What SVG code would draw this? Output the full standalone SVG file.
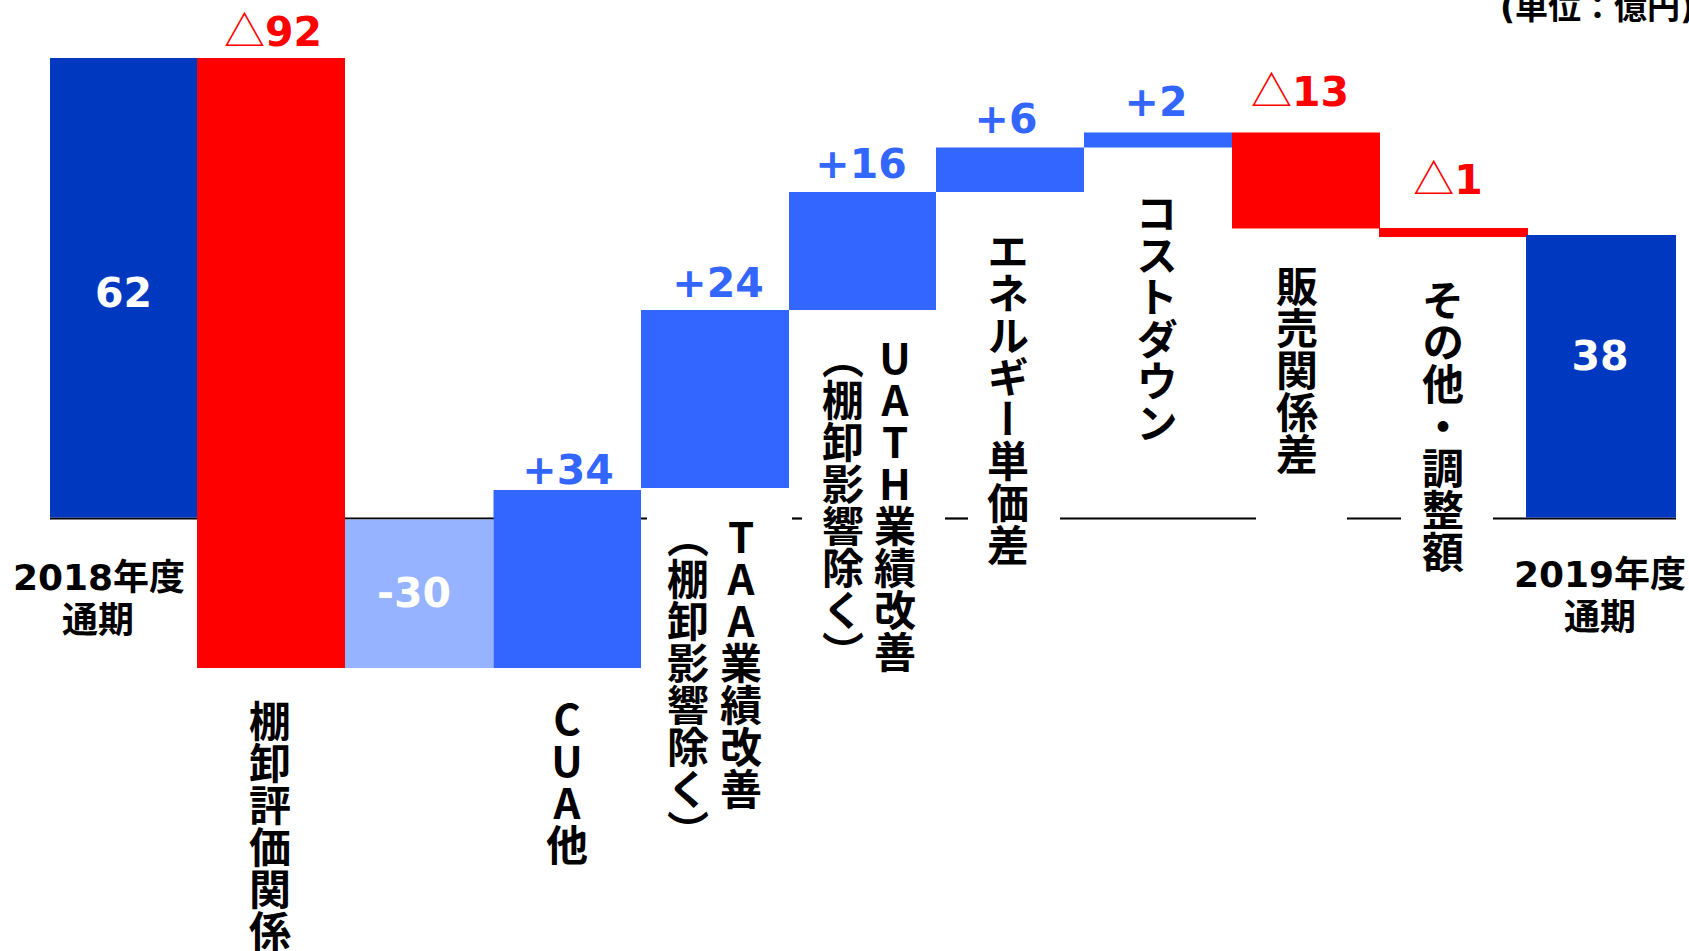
<svg xmlns="http://www.w3.org/2000/svg" width="1689" height="951" viewBox="0 0 1689 951">
<style>
.num{font-family:"DejaVu Sans","Noto Sans CJK JP",sans-serif;font-weight:bold;font-size:41px;text-anchor:middle}
.tri{font-family:"Noto Sans CJK JP",sans-serif;font-weight:normal}
.w{fill:#FFFFFF}
.pos{fill:#3366FF}
.neg{fill:#FF0000}
.lbl{font-family:"DejaVu Sans","Noto Sans CJK JP",sans-serif;font-weight:bold;font-size:36px;text-anchor:middle;fill:#000}
.unit{font-family:"DejaVu Sans","Noto Sans CJK JP",sans-serif;font-weight:bold;font-size:33px;fill:#000}
.vt{font-family:"Noto Sans CJK JP",sans-serif;font-weight:bold;font-size:42px;fill:#000;writing-mode:vertical-rl}
.up{text-orientation:upright}
.base{stroke:#000;stroke-width:2.2;fill:none}
.dark{fill:#0038C0}
.red{fill:#FF0000}
.mid{fill:#3366FF}
.light{fill:#95B3FF}
</style>
<rect width="1689" height="951" fill="#FFFFFF"/>
<g id="connectors">
<line class="base" x1="50" y1="518.5" x2="647" y2="518.5"/>
<line class="base" x1="792" y1="518.5" x2="802" y2="518.5"/>
<line class="base" x1="945" y1="518.5" x2="968" y2="518.5"/>
<line class="base" x1="1060" y1="518.5" x2="1256" y2="518.5"/>
<line class="base" x1="1347" y1="518.5" x2="1401" y2="518.5"/>
<line class="base" x1="1493" y1="518.5" x2="1676" y2="518.5"/>
</g>
<text class="unit" x="1500" y="19">(単位：億円)</text>
<g id="fy2018">
<rect class="dark" x="50" y="58" width="147" height="459.5"/>
<text class="num w" x="123.5" y="307">62</text>
<text class="lbl" x="99" y="590">2018年度</text>
<text class="lbl" x="98" y="633">通期</text>
</g>
<g id="inventory">
<rect class="red" x="197" y="58" width="148" height="610"/>
<text class="num neg" x="273" y="46"><tspan class="tri">△</tspan>92</text>
<text class="vt" x="270" y="700">棚卸評価関係</text>
</g>
<g id="minus30">
<rect class="light" x="345" y="519.5" width="148.5" height="148.5"/>
<text class="num w" x="414" y="607">-30</text>
</g>
<g id="cua">
<rect class="mid" x="493.5" y="490" width="147.5" height="178"/>
<text class="num pos" x="568" y="484">+34</text>
<text class="vt up" x="567" y="698">CUA他</text>
</g>
<g id="taa">
<rect class="mid" x="641" y="310" width="148" height="178"/>
<text class="num pos" x="718" y="297">+24</text>
<text class="vt up" x="741" y="516">TAA業績改善</text>
<text class="vt" x="688" y="516">（棚卸影響除く）</text>
</g>
<g id="uath">
<rect class="mid" x="789" y="192" width="147" height="118"/>
<text class="num pos" x="861" y="178">+16</text>
<text class="vt up" x="895" y="337">UATH業績改善</text>
<text class="vt" x="843" y="337">（棚卸影響除く）</text>
</g>
<g id="energy">
<rect class="mid" x="936" y="147.5" width="148" height="44.5"/>
<text class="num pos" x="1006" y="133">+6</text>
<text class="vt" x="1008" y="230">エネルギー単価差</text>
</g>
<g id="costdown">
<rect class="mid" x="1084" y="132.5" width="148" height="15"/>
<text class="num pos" x="1156" y="116">+2</text>
<text class="vt" x="1157" y="192">コストダウン</text>
</g>
<g id="sales">
<rect class="red" x="1232" y="132.5" width="148" height="96"/>
<text class="num neg" x="1300" y="106"><tspan class="tri">△</tspan>13</text>
<text class="vt" x="1297" y="265">販売関係差</text>
</g>
<g id="other">
<rect class="red" x="1379" y="228" width="149" height="9"/>
<text class="num neg" x="1448" y="194"><tspan class="tri">△</tspan>1</text>
<text class="vt" x="1443" y="279">その他・調整額</text>
</g>
<g id="fy2019">
<rect class="dark" x="1526" y="235" width="150" height="282.5"/>
<text class="num w" x="1600" y="370">38</text>
<text class="lbl" x="1600" y="587">2019年度</text>
<text class="lbl" x="1600" y="630">通期</text>
</g>
</svg>
